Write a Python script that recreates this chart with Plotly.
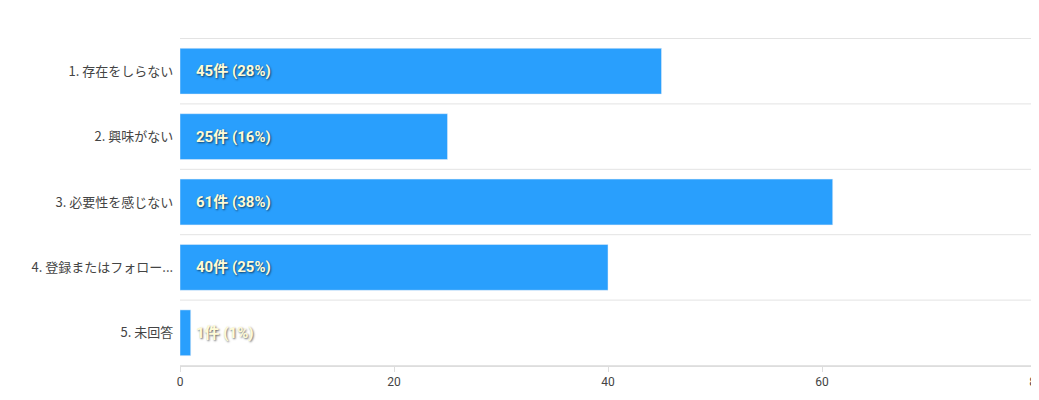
import plotly.graph_objects as go

categories = ["1. 存在をしらない", "2. 興味がない", "3. 必要性を感じない", "4. 登録またはフォロー...", "5. 未回答"]
values = [45, 25, 61, 40, 1]
labels = ["45件 (28%)", "25件 (16%)", "61件 (38%)", "40件 (25%)", "1件 (1%)"]

fig = go.Figure(go.Bar(x=values, y=categories, orientation="h", marker_color="#299ffd",
                       hoverinfo="skip"))
for c, l in zip(categories, labels):
    fig.add_annotation(x=0, y=c, text=f"<b>{l}</b>", showarrow=False, xanchor="left", xshift=14,
                       font=dict(family="Roboto, Noto Sans CJK JP", size=15, color="#fffbd6",
                                 shadow="1px 1px 2px rgba(0,0,0,0.6)"))
for i in range(len(categories) + 1):
    fig.add_shape(type="line", xref="paper", x0=0, x1=1, yref="y", y0=i - 0.5, y1=i - 0.5,
                  line=dict(color="#e3e3e3", width=1), layer="below")
fig.update_layout(
    width=1039, height=400, margin=dict(l=172, r=11, t=30, b=42),
    plot_bgcolor="white", paper_bgcolor="white", bargap=0.3, showlegend=False,
    font=dict(family="Noto Sans CJK JP, Roboto", size=13, color="#444"),
)
fig.update_xaxes(range=[0, 80], tickvals=[0, 20, 40, 60, 80], showgrid=False, zeroline=False,
                 ticks="outside", ticklen=5, tickcolor="#ddd", showline=True, linecolor="#ddd",
                 automargin=False, tickfont=dict(family="Roboto", size=12, color="#444"))
fig.update_yaxes(autorange="reversed", showgrid=False, range=[4.5, -0.5], ticks="", ticksuffix="  ",
                 automargin=False, tickfont=dict(size=13, color="#444"))
fig.write_html("out.html")
